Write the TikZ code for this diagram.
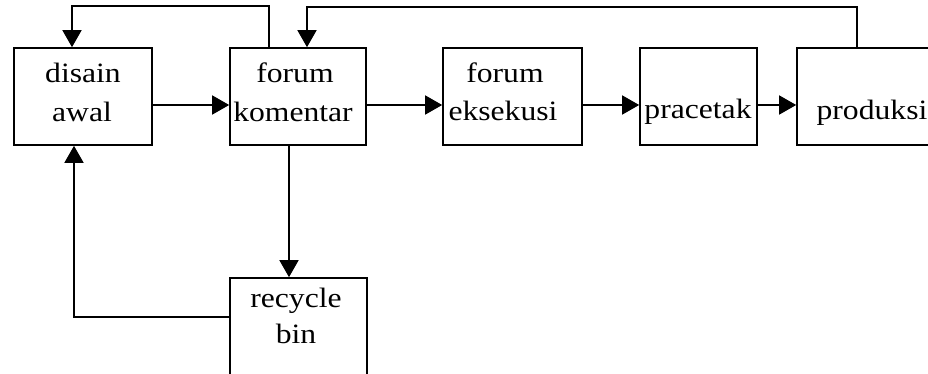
\documentclass[tikz,border=0pt]{standalone}
\usepackage{fontspec}
\setmainfont[FakeStretch=1.13]{Liberation Serif}
\usetikzlibrary{arrows.meta}
\tikzset{
  box/.style={draw, line width=1.6pt, rectangle, inner sep=0pt},
  lbl/.style={anchor=base, inner sep=0pt, font=\fontsize{28}{39}\selectfont},
  arr/.style={line width=1.5pt, -{Triangle[length=17pt,width=19pt]}}
}
\begin{document}
\begin{tikzpicture}[x=1pt,y=-1pt]
\useasboundingbox (0,0) rectangle (928,374);
\clip (0,0) rectangle (928,374);
% boxes
\node[box, minimum width=138pt, minimum height=97pt] (A) at (83,96.5) {};
\node[box, minimum width=136pt, minimum height=97pt] (B) at (298,96.5) {};
\node[box, minimum width=139pt, minimum height=97pt] (C) at (512.5,96.5) {};
\node[box, minimum width=117pt, minimum height=97pt] (D) at (698.5,96.5) {};
\node[box, minimum width=143pt, minimum height=97pt] (E) at (868.5,96.5) {};
\node[box, minimum width=137pt, minimum height=102pt] (F) at (298.5,329) {};
% labels
\node[lbl] (a1) at (83,83) {disain};
\node[lbl] (a2) at (82,122) {awal};
\node[lbl] (b1) at (295,83) {forum};
\node[lbl] (b2) at (293,122) {komentar};
\node[lbl] (c1) at (505,83) {forum};
\node[lbl] (c2) at (503,121) {eksekusi};
\node[lbl] (d1) at (698,119) {pracetak};
\node[lbl] (e1) at (872,120) {produksi};
\node[lbl] (f1) at (296,307) {recycle};
\node[lbl] (f2) at (296,343) {bin};
% connectors
\draw[arr] ([yshift=-8.5pt]A.east) -- ([yshift=-8.5pt]B.west);
\draw[arr] ([yshift=-8.5pt]B.east) -- ([yshift=-8.5pt]C.west);
\draw[arr] ([yshift=-8.5pt]C.east) -- ([yshift=-8.5pt]D.west);
\draw[arr] ([yshift=-8.5pt]D.east) -- ([yshift=-8.5pt]E.west);
\draw[arr] ([xshift=-29pt]B.north) -- ++(0,-41) -| ([xshift=-11pt]A.north);
\draw[arr] ([xshift=-11.5pt]E.north) -- ++(0,-40) -| ([xshift=9pt]B.north);
\draw[arr] ([xshift=-9pt]B.south) -- ([xshift=-9pt]B.south |- F.north);
\draw[arr] ([yshift=12pt]F.west) -| ([xshift=-9pt]A.south);
\end{tikzpicture}
\end{document}
